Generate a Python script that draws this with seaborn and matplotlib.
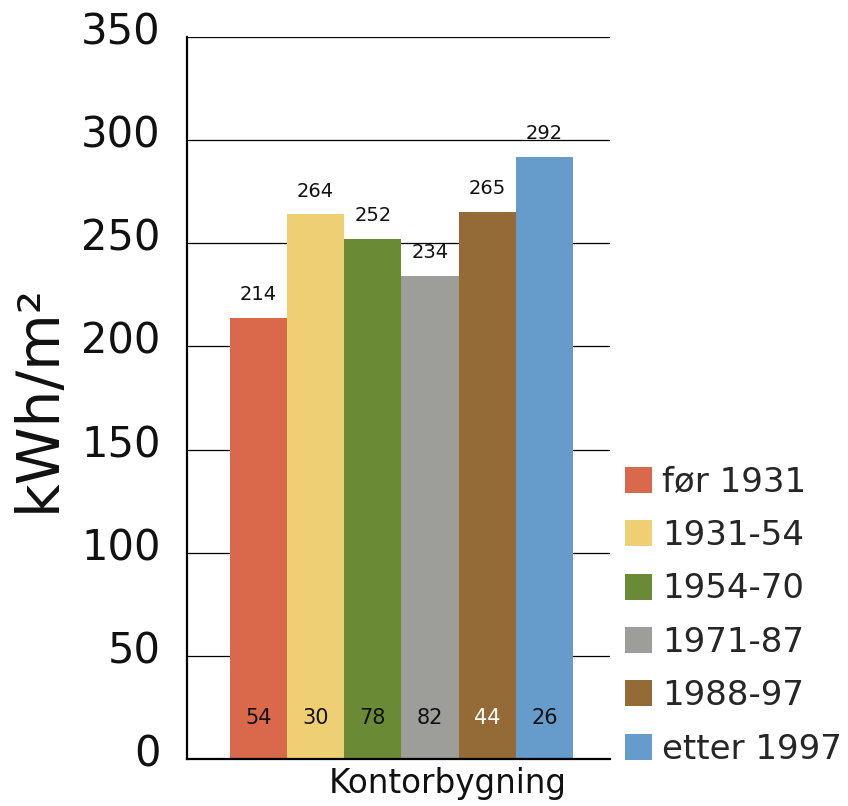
import numpy as np
import pandas as pd
import matplotlib.pyplot as plt
import seaborn as sns
from matplotlib.transforms import ScaledTranslation

sns.set_style('white')
plt.rcParams['font.family'] = ['DejaVu Sans']

building = 'Kontorbygning'
periods = ['før 1931', '1931-54', '1954-70', '1971-87', '1988-97', 'etter 1997']
values = [214, 264, 252, 234, 265, 292]
counts = [54, 30, 78, 82, 44, 26]
colors = ['#D9694A', '#EFCF73', '#6A8A35', '#9D9E9A', '#946A37', '#669CCB']
count_colors = ['#111111', '#111111', '#111111', '#111111', '#ffffff', '#111111']

df = pd.DataFrame({'building': building, 'period': periods, 'value': values, 'count': counts})

fig = plt.figure(figsize=(8.48, 8.06), dpi=100)
ax = fig.add_axes([0.2205, 0.0583, 0.4988, 0.8958])

sns.barplot(
    data=df, x='building', y='value', hue='period', hue_order=periods,
    palette=colors, saturation=1, width=0.8, linewidth=0, legend=True, ax=ax,
)

ax.set_ylim(0, 350)
ax.set_xlim(-0.5, 0.486)
ax.set_yticks(np.arange(0, 351, 50))
ax.yaxis.grid(True, color='black', linewidth=0.9)
ax.set_axisbelow(True)
for side in ['top', 'right']:
    ax.spines[side].set_visible(False)
for side in ['left', 'bottom']:
    ax.spines[side].set_color('black')
    ax.spines[side].set_linewidth(1.6)
ax.tick_params(axis='y', length=0, pad=19, labelsize=30, labelcolor='#111111')
ax.tick_params(axis='x', length=0, pad=6, labelsize=23.5, labelcolor='#111111')
for lab in ax.get_xticklabels():
    lab.set_transform(lab.get_transform() + ScaledTranslation(0.46, 0, fig.dpi_scale_trans))
for lab in ax.get_yticklabels():
    lab.set_transform(lab.get_transform() + ScaledTranslation(0, 0.09, fig.dpi_scale_trans))

ax.set_xlabel('')
ax.set_ylabel('kWh/m²', fontsize=42, color='#111111', labelpad=10)

for cont, n, c in zip(ax.containers, counts, count_colors):
    ax.bar_label(cont, fontsize=14, padding=10, color='#111111')
    bar = cont.patches[0]
    ax.text(bar.get_x() + bar.get_width() / 2, 20, str(n), ha='center', va='center',
            fontsize=15, color=c)

handles, labels = ax.get_legend_handles_labels()
ax.get_legend().remove()
fig.legend(handles, labels, loc='lower left', bbox_to_anchor=(0.737, 0.05),
           frameon=False, fontsize=24.5, handlelength=0.8, handleheight=0.8,
           handletextpad=0.3, labelspacing=0.6, borderpad=0, borderaxespad=0)

fig.savefig('out.png', dpi=100)
